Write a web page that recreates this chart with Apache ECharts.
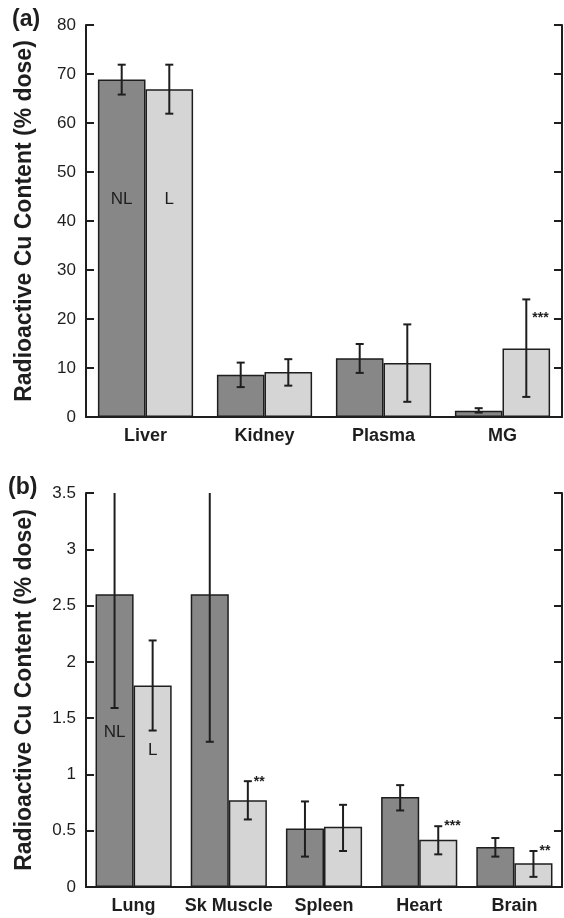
<!DOCTYPE html>
<html lang="en">
<head>
<meta charset="utf-8">
<title>Radioactive Cu content</title>
<script src="https://cdn.jsdelivr.net/npm/echarts@6/dist/echarts.min.js"></script>
<style>
  html, body { margin: 0; background: #fff; }
  #main { width: 564px; height: 918px; }
</style>
</head>
<body>
<div id="main"></div>
<script>
// ---- panel (a) ----
var catsA = ['Liver', 'Kidney', 'Plasma', 'MG'];
var nlA = [68.9, 8.6, 12.0, 1.3];
var nlLowA = [65.8, 6.1, 9.0, 0.9];
var nlHighA = [71.9, 11.1, 14.9, 1.8];
var lA = [66.9, 9.2, 11.0, 14.0];
var lLowA = [61.9, 6.4, 3.1, 4.1];
var lHighA = [71.9, 11.8, 18.9, 24.0];
// [category, bar (0 = NL, 1 = L), value, text]
var labelsA = [[0, 0, 44.5, 'NL'], [0, 1, 44.5, 'L']];
var starsA = [[3, 1, 21, '***']];

// ---- panel (b) ----
var catsB = ['Lung', 'Sk Muscle', 'Spleen', 'Heart', 'Brain'];
var nlB = [2.6, 2.6, 0.52, 0.8, 0.355];
var nlLowB = [1.59, 1.29, 0.27, 0.68, 0.27];
var nlHighB = [3.61, 3.91, 0.76, 0.905, 0.435];
var lB = [1.79, 0.77, 0.535, 0.42, 0.21];
var lLowB = [1.39, 0.6, 0.32, 0.29, 0.09];
var lHighB = [2.19, 0.94, 0.73, 0.54, 0.32];
var labelsB = [[0, 0, 1.37, 'NL'], [0, 1, 1.21, 'L']];
var starsB = [[1, 1, 0.97, '**'], [3, 1, 0.58, '***'], [4, 1, 0.35, '**']];

var yNameText = 'Radioactive Cu Content (% dose)';
var FONT = '"Liberation Sans", Arial, sans-serif';
var INK = '#1e1e1e';
var GAP = 0.2;

function errData(low, high, k) {
  return low.map(function (v, i) { return [i, v, high[i], k]; });
}

function barX(api, cat, k) {
  var band = api.size([1, 0])[0];
  var bw = band * (1 - GAP) / 2;
  return api.coord([cat, 0])[0] + (k === 0 ? -bw / 2 : bw / 2);
}

function renderErr(params, api) {
  var cat = api.value(0), k = api.value(3);
  var x = barX(api, cat, k);
  var yLo = api.coord([cat, api.value(1)])[1];
  var yHi = api.coord([cat, api.value(2)])[1];
  var top = params.coordSys.y;
  var clipped = yHi < top;
  if (clipped) yHi = top;
  var st = { stroke: INK, lineWidth: 2 };
  var kids = [
    { type: 'line', shape: { x1: x, y1: yLo, x2: x, y2: yHi }, style: st },
    { type: 'line', shape: { x1: x - 4, y1: yLo, x2: x + 4, y2: yLo }, style: st }
  ];
  if (!clipped) kids.push({ type: 'line', shape: { x1: x - 4, y1: yHi, x2: x + 4, y2: yHi }, style: st });
  return { type: 'group', children: kids };
}

function textSeries(list, gi, isStar) {
  return {
    type: 'custom', xAxisIndex: gi * 2, yAxisIndex: gi * 2, z: 5,
    data: list.map(function (d) { return [d[0], d[2], d[1]]; }),
    renderItem: function (params, api) {
      var d = list[params.dataIndex];
      var x = barX(api, d[0], d[1]);
      var y = api.coord([d[0], d[2]])[1];
      return {
        type: 'text',
        style: isStar ? {
          text: d[3], x: x + 6, y: y + 4, align: 'left', verticalAlign: 'middle',
          font: 'bold 14px ' + FONT, fill: INK
        } : {
          text: d[3], x: x, y: y, align: 'center', verticalAlign: 'middle',
          font: '17px ' + FONT, fill: INK
        }
      };
    }
  };
}

function axesFor(cats, gi, max, step) {
  var xs = [
    { type: 'category', gridIndex: gi, data: cats, position: 'bottom',
      axisLine: { lineStyle: { color: INK, width: 2 } },
      axisTick: { inside: true, length: 8, lineStyle: { color: INK, width: 2 } },
      axisLabel: { interval: 0, color: INK, fontFamily: FONT, fontWeight: 'bold', fontSize: 18, margin: 10 } },
    { type: 'category', gridIndex: gi, data: cats, position: 'top',
      axisLine: { lineStyle: { color: INK, width: 2 } },
      axisTick: { inside: true, length: 8, lineStyle: { color: INK, width: 2 } },
      axisLabel: { show: false } }
  ];
  var ys = [
    { type: 'value', gridIndex: gi, min: 0, max: max, interval: step, position: 'left',
      name: yNameText, nameLocation: 'middle', nameGap: 50,
      nameTextStyle: { color: INK, fontFamily: FONT, fontWeight: 'bold', fontSize: 23 },
      axisLine: { show: true, lineStyle: { color: INK, width: 2 } },
      axisTick: { show: true, inside: true, length: 8, lineStyle: { color: INK, width: 2 } },
      axisLabel: { color: INK, fontFamily: FONT, fontSize: 17, margin: 10 },
      splitLine: { show: false } },
    { type: 'value', gridIndex: gi, min: 0, max: max, interval: step, position: 'right',
      axisLine: { show: true, lineStyle: { color: INK, width: 2 } },
      axisTick: { show: true, inside: true, length: 8, lineStyle: { color: INK, width: 2 } },
      axisLabel: { show: false }, splitLine: { show: false } }
  ];
  return { xs: xs, ys: ys };
}

function barSeries(vals, gi, color) {
  return {
    type: 'bar', xAxisIndex: gi * 2, yAxisIndex: gi * 2, data: vals,
    barGap: '0%', barCategoryGap: (GAP * 100) + '%',
    itemStyle: { color: color, borderColor: INK, borderWidth: 1.5 },
    silent: true
  };
}

var A = axesFor(catsA, 0, 80, 10);
var B = axesFor(catsB, 1, 3.5, 0.5);

var chart = echarts.init(document.getElementById('main'), null, { renderer: 'canvas' });
chart.setOption({
  animation: false,
  backgroundColor: '#fff',
  grid: [
    { left: 86, right: 2, top: 25, height: 392 },
    { left: 86, right: 2, top: 493, height: 394 }
  ],
  xAxis: A.xs.concat(B.xs),
  yAxis: A.ys.concat(B.ys),
  graphic: [
    { type: 'text', left: 12, top: 8, style: { text: '(a)', font: 'bold 23px ' + FONT, fill: INK } },
    { type: 'text', left: 8, top: 476, style: { text: '(b)', font: 'bold 23px ' + FONT, fill: INK } }
  ],
  series: [
    barSeries(nlA, 0, '#878787'),
    barSeries(lA, 0, '#d5d5d5'),
    { type: 'custom', xAxisIndex: 0, yAxisIndex: 0, z: 4,
      data: errData(nlLowA, nlHighA, 0).concat(errData(lLowA, lHighA, 1)),
      encode: { x: 0, y: [1, 2] }, renderItem: renderErr },
    textSeries(labelsA, 0, false),
    textSeries(starsA, 0, true),

    barSeries(nlB, 1, '#878787'),
    barSeries(lB, 1, '#d5d5d5'),
    { type: 'custom', xAxisIndex: 2, yAxisIndex: 2, z: 4,
      data: errData(nlLowB, nlHighB, 0).concat(errData(lLowB, lHighB, 1)),
      encode: { x: 0, y: [1, 2] }, renderItem: renderErr },
    textSeries(labelsB, 1, false),
    textSeries(starsB, 1, true)
  ]
});
</script>
</body>
</html>
